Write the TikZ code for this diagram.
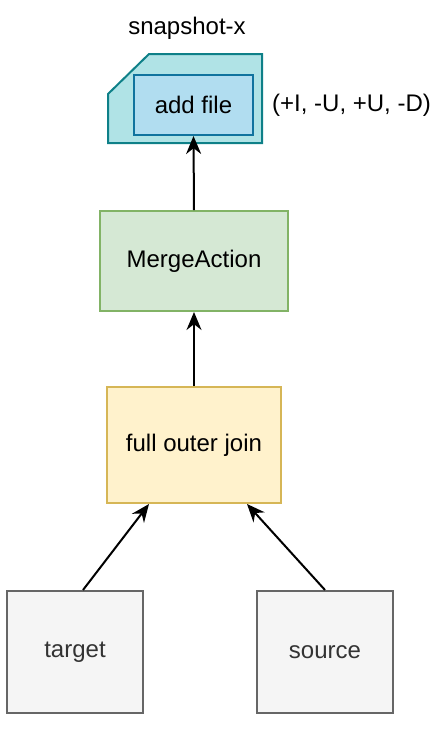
\documentclass[tikz,border=0pt]{standalone}
\usepackage{fontspec}
\setmainfont{Liberation Sans}
\usetikzlibrary{arrows.meta, positioning}

\definecolor{cardfill}{HTML}{B0E3E6}
\definecolor{carddraw}{HTML}{0E8088}
\definecolor{filefill}{HTML}{B1DDF0}
\definecolor{filedraw}{HTML}{10739E}
\definecolor{mergefill}{HTML}{D5E8D4}
\definecolor{mergedraw}{HTML}{82B366}
\definecolor{joinfill}{HTML}{FFF2CC}
\definecolor{joindraw}{HTML}{D6B656}
\definecolor{tablefill}{HTML}{F5F5F5}
\definecolor{tabledraw}{HTML}{666666}
\definecolor{tabletext}{HTML}{333333}

\tikzset{
  box/.style={draw, line width=2pt, inner sep=0pt},
  link/.style={-{Stealth[length=18pt, width=15pt]}, line width=2pt},
}

\begin{document}
\begin{tikzpicture}[x=1pt, y=1pt, font=\fontsize{24}{28}\selectfont]
\useasboundingbox (0, 0) rectangle (434, -732);

% Input tables
\node[box, fill=tablefill, draw=tabledraw, text=tabletext, minimum width=136pt, minimum height=122pt] (target) at (75, -652) {target};
\node[box, fill=tablefill, draw=tabledraw, text=tabletext, minimum width=136pt, minimum height=122pt] (source) at (325, -652) {source};

% Join and merge
\node[box, fill=joinfill, draw=joindraw, minimum width=174pt, minimum height=116pt] (join) at (194, -445) {full outer join};
\node[box, fill=mergefill, draw=mergedraw, minimum width=188pt, minimum height=100pt] (merge) at (194, -261) {MergeAction};

% Snapshot card
\filldraw[fill=cardfill, draw=carddraw, line width=2pt] (149, -54) -- (262, -54) -- (262, -143) -- (108, -143) -- (108, -94) -- cycle;
\node[box, fill=filefill, draw=filedraw, minimum width=119pt, minimum height=60pt] (addfile) at (193.5, -105) {add file};
\node (snapshot) at (187, -28) {snapshot-x};
\node[anchor=west, inner sep=0pt] (ops) at (272, -105) {(+I, -U, +U, -D)};

% Connectors
\draw[link] ([xshift=8pt]target.north) -- ([xshift=-45pt]join.south);
\draw[link] (source.north) -- ([xshift=53pt]join.south);
\draw[link] (join.north) -- (merge.south);
\draw[link] (merge.north) -- (addfile.south);
\end{tikzpicture}
\end{document}
